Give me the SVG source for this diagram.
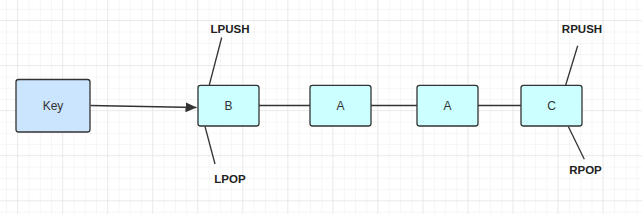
<svg xmlns="http://www.w3.org/2000/svg" width="642" height="214" viewBox="0 0 642 214">
<defs>
<pattern id="minor" patternUnits="userSpaceOnUse" x="6" y="9" width="11.26" height="11.26">
<path d="M0 0V11.26M0 0H11.26" fill="none" stroke="#eeeeee" stroke-width="1"/>
</pattern>
<pattern id="major" patternUnits="userSpaceOnUse" x="17" y="20" width="45.04" height="45.04">
<path d="M0 0V45.04M0 0H45.04" fill="none" stroke="#e0e0e0" stroke-width="1"/>
</pattern>
<marker id="arrow" markerWidth="12" markerHeight="10" refX="11" refY="5" orient="auto" markerUnits="userSpaceOnUse">
<path d="M0 0L11 5L0 10Z" fill="#333"/>
</marker>
</defs>
<style>
.node{stroke:#333;stroke-width:1.3}
.cyan{fill:#ccffff}
.blue{fill:#cce5ff}
.lbl{font-family:"Liberation Sans",Arial,sans-serif;font-size:12px;fill:#333;text-anchor:middle}
.op{font-family:"Liberation Sans",Arial,sans-serif;font-size:11.5px;font-weight:bold;fill:#222;text-anchor:middle}
.edge{stroke:#333;stroke-width:1.3;fill:none}
</style>
<rect width="642" height="214" fill="#ffffff"/>
<rect width="642" height="214" fill="url(#minor)"/>
<rect width="642" height="214" fill="url(#major)"/>
<g id="connectors">
<path class="edge" d="M90.5 105.5L196.5 107.5" marker-end="url(#arrow)"/>
<path class="edge" d="M259 105.5H310"/>
<path class="edge" d="M371 105.5H417"/>
<path class="edge" d="M478 105.5H521"/>
<path class="edge" d="M221.7 37.5L209.3 85"/>
<path class="edge" d="M205 126.5L215 164"/>
<path class="edge" d="M577.7 45.7L565.7 85"/>
<path class="edge" d="M568.3 126.5L584.3 159.3"/>
</g>
<g id="key">
<rect class="node blue" x="16" y="79.5" width="74" height="52.5" rx="2.5"/>
<text class="lbl" x="53" y="110">Key</text>
</g>
<g id="b">
<rect class="node cyan" x="198" y="85.3" width="61" height="40.7" rx="2.5"/>
<text class="lbl" x="228.5" y="110">B</text>
</g>
<g id="a1">
<rect class="node cyan" x="310" y="85.3" width="61" height="40.7" rx="2.5"/>
<text class="lbl" x="340.5" y="110">A</text>
</g>
<g id="a2">
<rect class="node cyan" x="417" y="85.3" width="61" height="40.7" rx="2.5"/>
<text class="lbl" x="447.5" y="110">A</text>
</g>
<g id="c">
<rect class="node cyan" x="521" y="85.3" width="61" height="40.7" rx="2.5"/>
<text class="lbl" x="551.5" y="110">C</text>
</g>
<g id="lpush"><text class="op" x="230" y="33">LPUSH</text></g>
<g id="lpop"><text class="op" x="230" y="183">LPOP</text></g>
<g id="rpush"><text class="op" x="582" y="33">RPUSH</text></g>
<g id="rpop"><text class="op" x="585.5" y="173.5">RPOP</text></g>
</svg>
